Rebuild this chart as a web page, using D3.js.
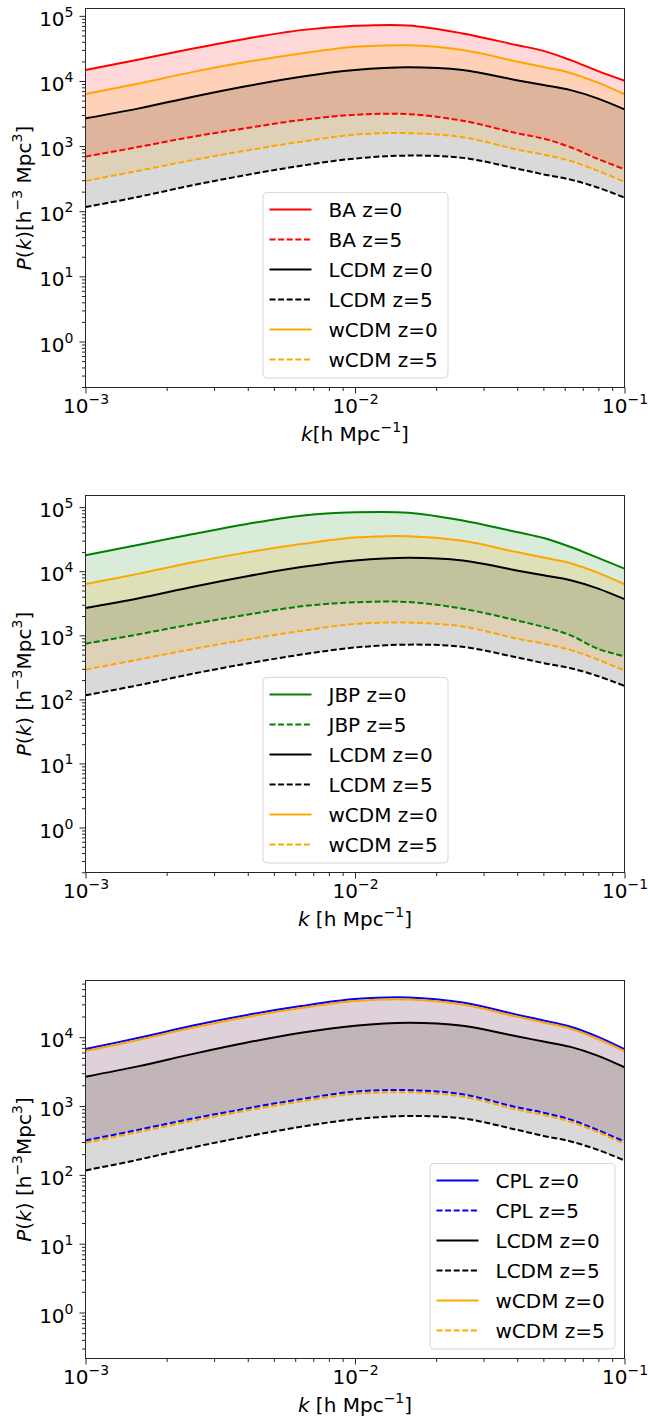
<!DOCTYPE html>
<html>
<head>
<meta charset="utf-8">
<script src="https://cdn.jsdelivr.net/npm/d3@7"></script>
<style>
  body { margin: 0; background: #fff; }
  svg { display: block; }
  text { font-family: "DejaVu Sans", sans-serif; fill: #000; }
</style>
</head>
<body>
<svg id="chart" width="648" height="1420"></svg>
<script>
// Wavenumbers k [h/Mpc] at which the spectra are sampled
const kValues = [0.001, 0.00158, 0.00251, 0.00398, 0.00631, 0.01, 0.0158, 0.0251, 0.0398, 0.0501, 0.0631, 0.0794, 0.1];

// Linear matter power spectra P(k) [h^-3 Mpc^3]
const lcdmZ0 = [2670, 3800, 5730, 8360, 11600, 14700, 16200, 14700, 10300, 8650, 7240, 5410, 3660];
const lcdmZ5 = [116, 167, 252, 362, 500, 645, 715, 660, 452, 368, 306, 232, 162];
const wcdmZ0 = [6300, 9180, 13800, 19700, 26500, 33500, 35300, 29800, 19900, 16400, 13300, 9500, 6260];
const wcdmZ5 = [292, 420, 612, 860, 1170, 1500, 1580, 1370, 890, 740, 590, 420, 282];
const baZ0   = [14700, 21400, 31600, 45000, 60400, 70300, 71300, 53700, 35600, 29000, 20900, 14300, 10100];
const baZ5   = [690, 975, 1400, 1900, 2520, 3030, 3100, 2450, 1580, 1300, 960, 640, 440];
const jbpZ0  = [17700, 26000, 38000, 54600, 73600, 83000, 82000, 62000, 40900, 33000, 23900, 16300, 11000];
const jbpZ5  = [741, 1040, 1500, 2100, 2830, 3270, 3310, 2600, 1710, 1350, 1000, 619, 470];
const cplZ0  = [6750, 9820, 14800, 21100, 28400, 35800, 37800, 31900, 21300, 17500, 14200, 10200, 6700];
const cplZ5  = [316, 454, 660, 925, 1260, 1620, 1700, 1480, 960, 800, 635, 450, 305];

// Axis ranges and tick exponents
const kDomain = [1e-3, 1e-1];
const xTickExponents = [-3, -2, -1];
const yDomains = [
  [Math.pow(10, -0.706), Math.pow(10, 5.113)],
  [Math.pow(10, -0.702), Math.pow(10, 5.182)],
  [Math.pow(10, -0.668), Math.pow(10, 4.824)]
];

// Models compared against LCDM and wCDM in each panel
const modelNames = ["BA", "JBP", "CPL"];
const modelColors = ["red", "green", "blue"];
const modelZ0 = [baZ0, jbpZ0, cplZ0];
const modelZ5 = [baZ5, jbpZ5, cplZ5];

const FONT = 20, SUP = 14, RAISE = 9;
const xLeft = 85.5, xRight = 624.5;
const frames = [
  { top: 8.5, bottom: 387.5, legend: "center" },
  { top: 495.5, bottom: 872.5, legend: "center" },
  { top: 980.5, bottom: 1358.5, legend: "right" }
];
const spineColor = "#262626";
const dash = "6,2.6";

const svg = d3.select("#chart");
const x = d3.scaleLog().domain(kDomain).range([xLeft, xRight]);

// Writes mixed text (italic / superscript runs) into a <text> element
function rich(textSel, parts) {
  let raised = false;
  parts.forEach(p => {
    const ts = textSel.append("tspan").text(p.t);
    if (p.it) ts.attr("font-style", "italic");
    if (p.sup) {
      ts.attr("font-size", SUP);
      if (!raised) { ts.attr("dy", -RAISE); raised = true; }
    } else if (raised) {
      ts.attr("dy", RAISE); raised = false;
    }
  });
}

function logTicks(domain) {
  const lo = Math.floor(Math.log10(domain[0])), hi = Math.ceil(Math.log10(domain[1]));
  const major = [], minor = [];
  for (let e = lo; e <= hi; e++) {
    for (let m = 1; m <= 9; m++) {
      const v = m * Math.pow(10, e);
      if (v < domain[0] * 0.9999 || v > domain[1] * 1.0001) continue;
      (m === 1 ? major : minor).push(v);
    }
  }
  return { major, minor };
}

const xLabelParts = [
  [{ t: "k", it: true }, { t: "[h Mpc" }, { t: "\u22121", sup: true }, { t: "]" }],
  [{ t: "k", it: true }, { t: " [h Mpc" }, { t: "\u22121", sup: true }, { t: "]" }],
  [{ t: "k", it: true }, { t: " [h Mpc" }, { t: "\u22121", sup: true }, { t: "]" }]
];
const yLabelParts = [
  [{ t: "P", it: true }, { t: "(" }, { t: "k", it: true }, { t: ")[h" }, { t: "\u22123", sup: true }, { t: " Mpc" }, { t: "3", sup: true }, { t: "]" }],
  [{ t: "P", it: true }, { t: "(" }, { t: "k", it: true }, { t: ") [h" }, { t: "\u22123", sup: true }, { t: "Mpc" }, { t: "3", sup: true }, { t: "]" }],
  [{ t: "P", it: true }, { t: "(" }, { t: "k", it: true }, { t: ") [h" }, { t: "\u22123", sup: true }, { t: "Mpc" }, { t: "3", sup: true }, { t: "]" }]
];

frames.forEach((f, i) => {
  const g = svg.append("g");
  const y = d3.scaleLog().domain(yDomains[i]).range([f.bottom, f.top]);

  const clipId = "plot-clip-" + i;
  svg.append("clipPath").attr("id", clipId)
    .append("rect").attr("x", xLeft).attr("y", f.top)
    .attr("width", xRight - xLeft).attr("height", f.bottom - f.top);
  const plot = g.append("g").attr("clip-path", `url(#${clipId})`);

  const series = [
    { name: modelNames[i], color: modelColors[i], z0: modelZ0[i], z5: modelZ5[i] },
    { name: "LCDM", color: "black", z0: lcdmZ0, z5: lcdmZ5 },
    { name: "wCDM", color: "orange", z0: wcdmZ0, z5: wcdmZ5 }
  ];

  const curve = d3.curveCatmullRom.alpha(0.5);
  const area = d3.area()
    .x((d, j) => x(kValues[j]))
    .y0(d => y(d[1]))
    .y1(d => y(d[0]))
    .curve(curve);
  const line = d3.line()
    .x((d, j) => x(kValues[j]))
    .y(d => y(d))
    .curve(curve);

  // shaded bands between z=0 and z=5
  series.forEach(s => {
    plot.append("path")
      .datum(s.z0.map((v, j) => [v, s.z5[j]]))
      .attr("d", area)
      .attr("fill", s.color)
      .attr("fill-opacity", 0.15);
  });
  // spectra
  series.forEach(s => {
    plot.append("path").datum(s.z0).attr("d", line)
      .attr("fill", "none").attr("stroke", s.color).attr("stroke-width", 2);
    plot.append("path").datum(s.z5).attr("d", line)
      .attr("fill", "none").attr("stroke", s.color).attr("stroke-width", 2)
      .attr("stroke-dasharray", dash);
  });

  // axes
  const yt = logTicks(yDomains[i]);
  const xt = logTicks(kDomain);
  const axisStyle = a => { a.select(".domain").remove(); a.attr("color", spineColor); };

  g.append("g").attr("transform", `translate(${xLeft},0)`)
    .call(d3.axisLeft(y).tickValues(yt.minor).tickSize(3.5).tickFormat(""))
    .call(axisStyle);
  const yMajor = g.append("g").attr("transform", `translate(${xLeft},0)`)
    .call(d3.axisLeft(y).tickValues(yt.major).tickSize(6).tickFormat(""))
    .call(axisStyle);
  yMajor.selectAll(".tick").each(function (d) {
    const t = d3.select(this).append("text")
      .attr("x", -12).attr("y", 9.5)
      .attr("text-anchor", "end").attr("font-size", FONT).attr("fill", "#000");
    rich(t, [{ t: "10" }, { t: String(Math.round(Math.log10(d))).replace("-", "\u2212"), sup: true }]);
  });

  g.append("g").attr("transform", `translate(0,${f.bottom})`)
    .call(d3.axisBottom(x).tickValues(xt.minor).tickSize(3.5).tickFormat(""))
    .call(axisStyle);
  const xMajor = g.append("g").attr("transform", `translate(0,${f.bottom})`)
    .call(d3.axisBottom(x).tickValues(xTickExponents.map(e => Math.pow(10, e))).tickSize(6).tickFormat(""))
    .call(axisStyle);
  xMajor.selectAll(".tick").each(function (d) {
    const t = d3.select(this).append("text")
      .attr("x", 0).attr("y", 25.5)
      .attr("text-anchor", "middle").attr("font-size", FONT).attr("fill", "#000");
    rich(t, [{ t: "10" }, { t: String(Math.round(Math.log10(d))).replace("-", "\u2212"), sup: true }]);
  });

  // frame
  g.append("rect")
    .attr("x", xLeft).attr("y", f.top)
    .attr("width", xRight - xLeft).attr("height", f.bottom - f.top)
    .attr("fill", "none").attr("stroke", spineColor).attr("stroke-width", 1);

  // axis titles
  const xl = g.append("text")
    .attr("x", (xLeft + xRight) / 2).attr("y", f.bottom + 53)
    .attr("text-anchor", "middle").attr("font-size", FONT);
  rich(xl, xLabelParts[i]);

  const cy = (f.top + f.bottom) / 2;
  const yl = g.append("text")
    .attr("transform", `translate(31,${cy}) rotate(-90)`)
    .attr("text-anchor", "middle").attr("font-size", FONT);
  rich(yl, yLabelParts[i]);

  // legend
  const lw = 185, lh = 185.6, pad = 10;
  const lx = f.legend === "center" ? (xLeft + xRight) / 2 - lw / 2 : xRight - pad - lw;
  const ly = f.bottom - pad - lh;
  const leg = g.append("g").attr("transform", `translate(${lx},${ly})`);
  leg.append("rect")
    .attr("x", 0.5).attr("y", 0.5).attr("width", lw).attr("height", lh)
    .attr("rx", 4).attr("ry", 4)
    .attr("fill", "#fff").attr("fill-opacity", 0.8)
    .attr("stroke", "#d6d6d6").attr("stroke-width", 1);
  const entries = [];
  series.forEach(s => {
    entries.push({ label: s.name + " z=0", color: s.color, dashed: false });
    entries.push({ label: s.name + " z=5", color: s.color, dashed: true });
  });
  entries.forEach((e, j) => {
    const ry = 17.6 + j * 30;
    leg.append("line")
      .attr("x1", 7).attr("x2", 49).attr("y1", ry).attr("y2", ry)
      .attr("stroke", e.color).attr("stroke-width", 2)
      .attr("stroke-dasharray", e.dashed ? dash : null);
    leg.append("text")
      .attr("x", 66).attr("y", ry + 7.3)
      .attr("font-size", FONT)
      .text(e.label);
  });
});
</script>
</body>
</html>
